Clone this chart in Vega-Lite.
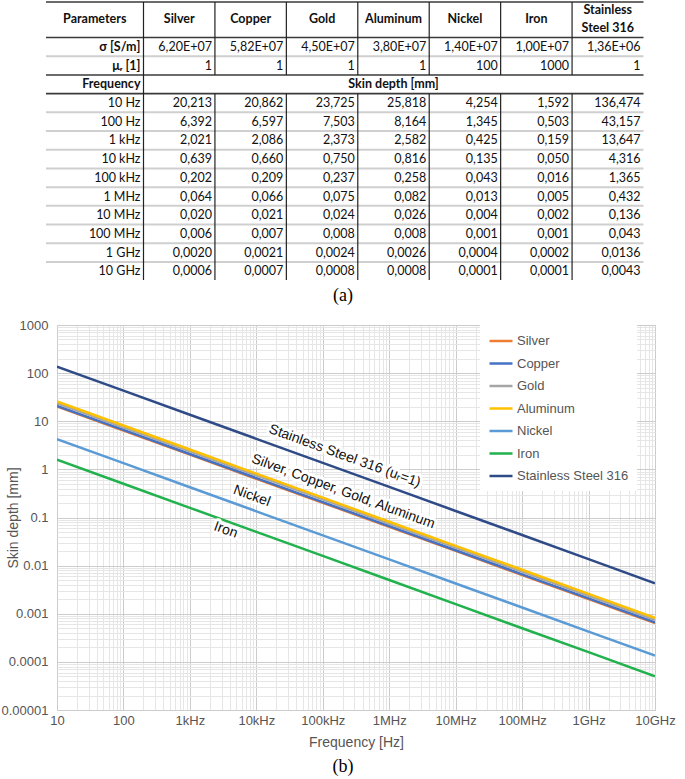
{
  "$schema": "https://vega.github.io/schema/vega-lite/v6.json",
  "padding": 0,
  "spacing": 13,
  "config": {"view": {"stroke": null}, "font": "Liberation Sans"},
  "datasets": {
    "materials": [
      {"material": "Silver", "col": 1, "header": "Silver"},
      {"material": "Copper", "col": 2, "header": "Copper"},
      {"material": "Gold", "col": 3, "header": "Gold"},
      {"material": "Aluminum", "col": 4, "header": "Aluminum"},
      {"material": "Nickel", "col": 5, "header": "Nickel"},
      {"material": "Iron", "col": 6, "header": "Iron"},
      {"material": "Stainless Steel 316", "col": 7, "header": "Stainless\nSteel 316"}
    ],
    "tableRows": [
      {"row": -3, "label": "σ [S/m]", "Silver": "6,20E+07", "Copper": "5,82E+07", "Gold": "4,50E+07", "Aluminum": "3,80E+07", "Nickel": "1,40E+07", "Iron": "1,00E+07", "Stainless Steel 316": "1,36E+06"},
      {"row": -2, "label": "μᵣ [1]", "Silver": "1", "Copper": "1", "Gold": "1", "Aluminum": "1", "Nickel": "100", "Iron": "1000", "Stainless Steel 316": "1"},
      {"row": -1, "label": "Frequency"},
      {"row": 0, "label": "10 Hz", "Silver": "20,213", "Copper": "20,862", "Gold": "23,725", "Aluminum": "25,818", "Nickel": "4,254", "Iron": "1,592", "Stainless Steel 316": "136,474"},
      {"row": 1, "label": "100 Hz", "Silver": "6,392", "Copper": "6,597", "Gold": "7,503", "Aluminum": "8,164", "Nickel": "1,345", "Iron": "0,503", "Stainless Steel 316": "43,157"},
      {"row": 2, "label": "1 kHz", "Silver": "2,021", "Copper": "2,086", "Gold": "2,373", "Aluminum": "2,582", "Nickel": "0,425", "Iron": "0,159", "Stainless Steel 316": "13,647"},
      {"row": 3, "label": "10 kHz", "Silver": "0,639", "Copper": "0,660", "Gold": "0,750", "Aluminum": "0,816", "Nickel": "0,135", "Iron": "0,050", "Stainless Steel 316": "4,316"},
      {"row": 4, "label": "100 kHz", "Silver": "0,202", "Copper": "0,209", "Gold": "0,237", "Aluminum": "0,258", "Nickel": "0,043", "Iron": "0,016", "Stainless Steel 316": "1,365"},
      {"row": 5, "label": "1 MHz", "Silver": "0,064", "Copper": "0,066", "Gold": "0,075", "Aluminum": "0,082", "Nickel": "0,013", "Iron": "0,005", "Stainless Steel 316": "0,432"},
      {"row": 6, "label": "10 MHz", "Silver": "0,020", "Copper": "0,021", "Gold": "0,024", "Aluminum": "0,026", "Nickel": "0,004", "Iron": "0,002", "Stainless Steel 316": "0,136"},
      {"row": 7, "label": "100 MHz", "Silver": "0,006", "Copper": "0,007", "Gold": "0,008", "Aluminum": "0,008", "Nickel": "0,001", "Iron": "0,001", "Stainless Steel 316": "0,043"},
      {"row": 8, "label": "1 GHz", "Silver": "0,0020", "Copper": "0,0021", "Gold": "0,0024", "Aluminum": "0,0026", "Nickel": "0,0004", "Iron": "0,0002", "Stainless Steel 316": "0,0136"},
      {"row": 9, "label": "10 GHz", "Silver": "0,0006", "Copper": "0,0007", "Gold": "0,0008", "Aluminum": "0,0008", "Nickel": "0,0001", "Iron": "0,0001", "Stainless Steel 316": "0,0043"}
    ],
    "curves": [
      {"material": "Silver", "freq": 10, "depth": 20.21}, {"material": "Silver", "freq": 100, "depth": 6.392}, {"material": "Silver", "freq": 1000, "depth": 2.021}, {"material": "Silver", "freq": 1e4, "depth": 0.639}, {"material": "Silver", "freq": 1e5, "depth": 0.2021}, {"material": "Silver", "freq": 1e6, "depth": 0.0639}, {"material": "Silver", "freq": 1e7, "depth": 0.0202}, {"material": "Silver", "freq": 1e8, "depth": 0.00639}, {"material": "Silver", "freq": 1e9, "depth": 0.00202}, {"material": "Silver", "freq": 1e10, "depth": 0.00064},
      {"material": "Copper", "freq": 10, "depth": 20.86}, {"material": "Copper", "freq": 100, "depth": 6.597}, {"material": "Copper", "freq": 1000, "depth": 2.086}, {"material": "Copper", "freq": 1e4, "depth": 0.66}, {"material": "Copper", "freq": 1e5, "depth": 0.2086}, {"material": "Copper", "freq": 1e6, "depth": 0.066}, {"material": "Copper", "freq": 1e7, "depth": 0.0209}, {"material": "Copper", "freq": 1e8, "depth": 0.0066}, {"material": "Copper", "freq": 1e9, "depth": 0.00209}, {"material": "Copper", "freq": 1e10, "depth": 0.00066},
      {"material": "Gold", "freq": 10, "depth": 23.73}, {"material": "Gold", "freq": 100, "depth": 7.503}, {"material": "Gold", "freq": 1000, "depth": 2.373}, {"material": "Gold", "freq": 1e4, "depth": 0.75}, {"material": "Gold", "freq": 1e5, "depth": 0.2373}, {"material": "Gold", "freq": 1e6, "depth": 0.075}, {"material": "Gold", "freq": 1e7, "depth": 0.0237}, {"material": "Gold", "freq": 1e8, "depth": 0.0075}, {"material": "Gold", "freq": 1e9, "depth": 0.00237}, {"material": "Gold", "freq": 1e10, "depth": 0.00075},
      {"material": "Aluminum", "freq": 10, "depth": 25.82}, {"material": "Aluminum", "freq": 100, "depth": 8.164}, {"material": "Aluminum", "freq": 1000, "depth": 2.582}, {"material": "Aluminum", "freq": 1e4, "depth": 0.816}, {"material": "Aluminum", "freq": 1e5, "depth": 0.2582}, {"material": "Aluminum", "freq": 1e6, "depth": 0.0816}, {"material": "Aluminum", "freq": 1e7, "depth": 0.0258}, {"material": "Aluminum", "freq": 1e8, "depth": 0.0082}, {"material": "Aluminum", "freq": 1e9, "depth": 0.00258}, {"material": "Aluminum", "freq": 1e10, "depth": 0.00082},
      {"material": "Nickel", "freq": 10, "depth": 4.254}, {"material": "Nickel", "freq": 100, "depth": 1.345}, {"material": "Nickel", "freq": 1000, "depth": 0.425}, {"material": "Nickel", "freq": 1e4, "depth": 0.1345}, {"material": "Nickel", "freq": 1e5, "depth": 0.0425}, {"material": "Nickel", "freq": 1e6, "depth": 0.01345}, {"material": "Nickel", "freq": 1e7, "depth": 0.00425}, {"material": "Nickel", "freq": 1e8, "depth": 0.00135}, {"material": "Nickel", "freq": 1e9, "depth": 0.000425}, {"material": "Nickel", "freq": 1e10, "depth": 0.000135},
      {"material": "Iron", "freq": 10, "depth": 1.592}, {"material": "Iron", "freq": 100, "depth": 0.503}, {"material": "Iron", "freq": 1000, "depth": 0.159}, {"material": "Iron", "freq": 1e4, "depth": 0.0503}, {"material": "Iron", "freq": 1e5, "depth": 0.0159}, {"material": "Iron", "freq": 1e6, "depth": 0.00503}, {"material": "Iron", "freq": 1e7, "depth": 0.00159}, {"material": "Iron", "freq": 1e8, "depth": 0.0005}, {"material": "Iron", "freq": 1e9, "depth": 0.000159}, {"material": "Iron", "freq": 1e10, "depth": 0.00005},
      {"material": "Stainless Steel 316", "freq": 10, "depth": 136.47}, {"material": "Stainless Steel 316", "freq": 100, "depth": 43.16}, {"material": "Stainless Steel 316", "freq": 1000, "depth": 13.65}, {"material": "Stainless Steel 316", "freq": 1e4, "depth": 4.316}, {"material": "Stainless Steel 316", "freq": 1e5, "depth": 1.365}, {"material": "Stainless Steel 316", "freq": 1e6, "depth": 0.432}, {"material": "Stainless Steel 316", "freq": 1e7, "depth": 0.1365}, {"material": "Stainless Steel 316", "freq": 1e8, "depth": 0.0432}, {"material": "Stainless Steel 316", "freq": 1e9, "depth": 0.01365}, {"material": "Stainless Steel 316", "freq": 1e10, "depth": 0.0043}
    ],
    "notes": [
      {"label": "Stainless Steel 316 (uᵣ=1)", "freq": 2.14e5, "depth": 1.89},
      {"label": "Silver, Copper, Gold, Aluminum", "freq": 2.03e5, "depth": 0.3455},
      {"label": "Nickel", "freq": 8.55e3, "depth": 0.279},
      {"label": "Iron", "freq": 3.47e3, "depth": 0.0547}
    ]
  },
  "vconcat": [
    {
      "width": 598,
      "height": 280,
      "title": {"text": "(a)", "orient": "bottom", "anchor": "middle", "dx": -13, "offset": 6, "font": "Liberation Serif", "fontSize": 18, "fontWeight": "normal", "color": "#000000"},
      "layer": [
        {
          "data": {"name": "tableRows"},
          "transform": [{"filter": "datum.row == -3 || (datum.row >= 0 && datum.row < 9)"}],
          "mark": {"type": "rule", "color": "#cfcfcf", "strokeWidth": 2, "yOffset": 9.35},
          "encoding": {
            "x": {"datum": -1.365, "type": "quantitative", "scale": {"domain": [-1.211, 7.161], "zero": false, "nice": false}, "axis": null},
            "x2": {"datum": 7},
            "y": {"field": "row", "type": "quantitative", "scale": {"domain": [-5.508, 9.465], "reverse": true, "zero": false, "nice": false}, "axis": null}
          }
        },
        {
          "data": {"name": "tableRows"},
          "transform": [{"filter": "datum.row == -2 || datum.row == -1"}],
          "mark": {"type": "rule", "color": "#3a3a3a", "strokeWidth": 1.6, "yOffset": 9.35},
          "encoding": {
            "x": {"datum": -1.365, "type": "quantitative", "scale": {"domain": [-1.211, 7.161], "zero": false, "nice": false}, "axis": null},
            "x2": {"datum": 7},
            "y": {"field": "row", "type": "quantitative", "scale": {"domain": [-5.508, 9.465], "reverse": true, "zero": false, "nice": false}, "axis": null}
          }
        },
        {
          "data": {"name": "tableRows"},
          "transform": [{"filter": "datum.row == -3"}],
          "mark": {"type": "rule", "color": "#3a3a3a", "strokeWidth": 1.6, "yOffset": -9.35},
          "encoding": {
            "x": {"datum": -1.365, "type": "quantitative", "scale": {"domain": [-1.211, 7.161], "zero": false, "nice": false}, "axis": null},
            "x2": {"datum": 7},
            "y": {"field": "row", "type": "quantitative", "scale": {"domain": [-5.508, 9.465], "reverse": true, "zero": false, "nice": false}, "axis": null}
          }
        },
        {
          "data": {"values": [{}]},
          "mark": {"type": "rule", "color": "#3a3a3a", "strokeWidth": 1.6},
          "encoding": {
            "x": {"datum": -1.365, "type": "quantitative", "scale": {"domain": [-1.211, 7.161], "zero": false, "nice": false}, "axis": null},
            "x2": {"datum": 7},
            "y": {"datum": -5.4, "type": "quantitative", "scale": {"domain": [-5.508, 9.465], "reverse": true, "zero": false, "nice": false}, "axis": null}
          }
        },
        {
          "data": {"values": [{}]},
          "mark": {"type": "rule", "color": "#222222", "strokeWidth": 1.2},
          "encoding": {
            "x": {"datum": 0, "type": "quantitative", "scale": {"domain": [-1.211, 7.161], "zero": false, "nice": false}, "axis": null},
            "y": {"datum": -5.4, "type": "quantitative", "scale": {"domain": [-5.508, 9.465], "reverse": true, "zero": false, "nice": false}, "axis": null},
            "y2": {"datum": 9.465}
          }
        },
        {
          "data": {"name": "materials"},
          "transform": [{"filter": "datum.col <= 6"}],
          "mark": {"type": "rule", "color": "#222222", "strokeWidth": 1.2},
          "encoding": {
            "x": {"field": "col", "type": "quantitative", "scale": {"domain": [-1.211, 7.161], "zero": false, "nice": false}, "axis": null},
            "y": {"datum": -5.4, "type": "quantitative", "scale": {"domain": [-5.508, 9.465], "reverse": true, "zero": false, "nice": false}, "axis": null},
            "y2": {"datum": -1.5}
          }
        },
        {
          "data": {"name": "materials"},
          "transform": [{"filter": "datum.col <= 6"}],
          "mark": {"type": "rule", "color": "#222222", "strokeWidth": 1.2},
          "encoding": {
            "x": {"field": "col", "type": "quantitative", "scale": {"domain": [-1.211, 7.161], "zero": false, "nice": false}, "axis": null},
            "y": {"datum": -0.5, "type": "quantitative", "scale": {"domain": [-5.508, 9.465], "reverse": true, "zero": false, "nice": false}, "axis": null},
            "y2": {"datum": 9.465}
          }
        },
        {
          "data": {"values": [{}]},
          "mark": {"type": "text", "text": "Parameters", "font": "Lato, DejaVu Sans", "fontSize": 12.5, "fontWeight": "bold", "color": "#111111", "align": "center", "baseline": "middle"},
          "encoding": {
            "x": {"datum": -0.6825, "type": "quantitative", "scale": {"domain": [-1.211, 7.161], "zero": false, "nice": false}, "axis": null},
            "y": {"datum": -4.5, "type": "quantitative", "scale": {"domain": [-5.508, 9.465], "reverse": true, "zero": false, "nice": false}, "axis": null}
          }
        },
        {
          "data": {"name": "materials"},
          "transform": [{"filter": "datum.col <= 6"}],
          "mark": {"type": "text", "font": "Lato, DejaVu Sans", "fontSize": 12.5, "fontWeight": "bold", "color": "#111111", "align": "center", "baseline": "middle", "dx": -35.7},
          "encoding": {
            "x": {"field": "col", "type": "quantitative", "scale": {"domain": [-1.211, 7.161], "zero": false, "nice": false}, "axis": null},
            "y": {"datum": -4.5, "type": "quantitative", "scale": {"domain": [-5.508, 9.465], "reverse": true, "zero": false, "nice": false}, "axis": null},
            "text": {"field": "header", "type": "nominal"}
          }
        },
        {
          "data": {"name": "materials"},
          "transform": [{"filter": "datum.col == 7"}],
          "mark": {"type": "text", "font": "Lato, DejaVu Sans", "fontSize": 12.5, "fontWeight": "bold", "color": "#111111", "align": "center", "baseline": "middle", "dx": -35.7, "dy": -8.75, "lineBreak": "\n", "lineHeight": 17.5},
          "encoding": {
            "x": {"field": "col", "type": "quantitative", "scale": {"domain": [-1.211, 7.161], "zero": false, "nice": false}, "axis": null},
            "y": {"datum": -4.5, "type": "quantitative", "scale": {"domain": [-5.508, 9.465], "reverse": true, "zero": false, "nice": false}, "axis": null},
            "text": {"field": "header", "type": "nominal"}
          }
        },
        {
          "data": {"name": "tableRows"},
          "transform": [{"filter": "datum.row < 0"}],
          "mark": {"type": "text", "font": "Lato, DejaVu Sans", "fontSize": 12.5, "fontWeight": "bold", "color": "#111111", "align": "right", "baseline": "middle", "dx": -3},
          "encoding": {
            "x": {"datum": 0, "type": "quantitative", "scale": {"domain": [-1.211, 7.161], "zero": false, "nice": false}, "axis": null},
            "y": {"field": "row", "type": "quantitative", "scale": {"domain": [-5.508, 9.465], "reverse": true, "zero": false, "nice": false}, "axis": null},
            "text": {"field": "label", "type": "nominal"}
          }
        },
        {
          "data": {"name": "tableRows"},
          "transform": [{"filter": "datum.row >= 0"}],
          "mark": {"type": "text", "font": "Lato, DejaVu Sans", "fontSize": 12.5, "color": "#111111", "align": "right", "baseline": "middle", "dx": -3},
          "encoding": {
            "x": {"datum": 0, "type": "quantitative", "scale": {"domain": [-1.211, 7.161], "zero": false, "nice": false}, "axis": null},
            "y": {"field": "row", "type": "quantitative", "scale": {"domain": [-5.508, 9.465], "reverse": true, "zero": false, "nice": false}, "axis": null},
            "text": {"field": "label", "type": "nominal"}
          }
        },
        {
          "data": {"name": "tableRows"},
          "transform": [
            {"fold": ["Silver", "Copper", "Gold", "Aluminum", "Nickel", "Iron", "Stainless Steel 316"], "as": ["material", "value"]},
            {"filter": "isValid(datum.value)"},
            {"lookup": "material", "from": {"data": {"name": "materials"}, "key": "material", "fields": ["col"]}}
          ],
          "mark": {"type": "text", "font": "Lato, DejaVu Sans", "fontSize": 12.5, "color": "#111111", "align": "right", "baseline": "middle", "dx": -3},
          "encoding": {
            "x": {"field": "col", "type": "quantitative", "scale": {"domain": [-1.211, 7.161], "zero": false, "nice": false}, "axis": null},
            "y": {"field": "row", "type": "quantitative", "scale": {"domain": [-5.508, 9.465], "reverse": true, "zero": false, "nice": false}, "axis": null},
            "text": {"field": "value", "type": "nominal"}
          }
        },
        {
          "data": {"values": [{}]},
          "mark": {"type": "text", "text": "Skin depth [mm]", "font": "Lato, DejaVu Sans", "fontSize": 12.5, "fontWeight": "bold", "color": "#111111", "align": "center", "baseline": "middle"},
          "encoding": {
            "x": {"datum": 3.5, "type": "quantitative", "scale": {"domain": [-1.211, 7.161], "zero": false, "nice": false}, "axis": null},
            "y": {"datum": -1, "type": "quantitative", "scale": {"domain": [-5.508, 9.465], "reverse": true, "zero": false, "nice": false}, "axis": null}
          }
        }
      ]
    },
    {
      "width": 598,
      "height": 385,
      "view": {"stroke": "#cccccc"},
      "title": {"text": "(b)", "orient": "bottom", "anchor": "middle", "dx": -13, "offset": 9, "font": "Liberation Serif", "fontSize": 18, "fontWeight": "normal", "color": "#000000"},
      "layer": [
        {
          "data": {"name": "curves"},
          "mark": {"type": "line", "strokeWidth": 2.5, "clip": true},
          "encoding": {
            "x": {
              "field": "freq", "type": "quantitative",
              "scale": {"type": "log", "domain": [10, 1e10], "nice": false},
              "axis": {
                "title": "Frequency [Hz]",
                "values": [10, 20, 30, 40, 50, 60, 70, 80, 90, 100, 200, 300, 400, 500, 600, 700, 800, 900, 1000, 2000, 3000, 4000, 5000, 6000, 7000, 8000, 9000, 1e4, 2e4, 3e4, 4e4, 5e4, 6e4, 7e4, 8e4, 9e4, 1e5, 2e5, 3e5, 4e5, 5e5, 6e5, 7e5, 8e5, 9e5, 1e6, 2e6, 3e6, 4e6, 5e6, 6e6, 7e6, 8e6, 9e6, 1e7, 2e7, 3e7, 4e7, 5e7, 6e7, 7e7, 8e7, 9e7, 1e8, 2e8, 3e8, 4e8, 5e8, 6e8, 7e8, 8e8, 9e8, 1e9, 2e9, 3e9, 4e9, 5e9, 6e9, 7e9, 8e9, 9e9, 1e10],
                "labelExpr": "abs(log(datum.value)/LN10 - round(log(datum.value)/LN10)) < 0.001 ? ['10','100','1kHz','10kHz','100kHz','1MHz','10MHz','100MHz','1GHz','10GHz'][round(log(datum.value)/LN10)-1] : ''",
                "labelOverlap": false, "labelFlush": false, "labelBound": false,
                "ticks": false, "tickSize": 0, "domain": false,
                "grid": true, "gridWidth": 1,
                "gridColor": {"condition": {"test": "abs(log(datum.value)/LN10 - round(log(datum.value)/LN10)) < 0.001", "value": "#cccccc"}, "value": "#e6e6e6"},
                "labelFont": "Liberation Sans", "labelFontSize": 13, "labelColor": "#555555", "labelPadding": 4,
                "titleFont": "Liberation Sans", "titleFontSize": 14, "titleFontWeight": "normal", "titleColor": "#555555", "titlePadding": 8
              }
            },
            "y": {
              "field": "depth", "type": "quantitative",
              "scale": {"type": "log", "domain": [0.00001, 1000], "nice": false},
              "axis": {
                "title": "Skin depth [mm]",
                "values": [1e-5, 2e-5, 3e-5, 4e-5, 5e-5, 6e-5, 7e-5, 8e-5, 9e-5, 1e-4, 2e-4, 3e-4, 4e-4, 5e-4, 6e-4, 7e-4, 8e-4, 9e-4, 0.001, 0.002, 0.003, 0.004, 0.005, 0.006, 0.007, 0.008, 0.009, 0.01, 0.02, 0.03, 0.04, 0.05, 0.06, 0.07, 0.08, 0.09, 0.1, 0.2, 0.3, 0.4, 0.5, 0.6, 0.7, 0.8, 0.9, 1, 2, 3, 4, 5, 6, 7, 8, 9, 10, 20, 30, 40, 50, 60, 70, 80, 90, 100, 200, 300, 400, 500, 600, 700, 800, 900, 1000],
                "labelExpr": "abs(log(datum.value)/LN10 - round(log(datum.value)/LN10)) < 0.001 ? format(datum.value, '~f') : ''",
                "labelOverlap": false, "labelFlush": false, "labelBound": false,
                "ticks": false, "tickSize": 0, "domain": false,
                "grid": true, "gridWidth": 1,
                "gridColor": {"condition": {"test": "abs(log(datum.value)/LN10 - round(log(datum.value)/LN10)) < 0.001", "value": "#cccccc"}, "value": "#e6e6e6"},
                "labelFont": "Liberation Sans", "labelFontSize": 13, "labelColor": "#555555", "labelPadding": 9,
                "titleFont": "Liberation Sans", "titleFontSize": 14, "titleFontWeight": "normal", "titleColor": "#555555",
                "titleX": -44, "titleY": 192.5, "titleBaseline": "middle", "titleAlign": "center", "titleAngle": -90
              }
            },
            "color": {
              "field": "material", "type": "nominal",
              "scale": {
                "domain": ["Silver", "Copper", "Gold", "Aluminum", "Nickel", "Iron", "Stainless Steel 316"],
                "range": ["#ED7D31", "#4472C4", "#A5A5A5", "#FFC000", "#5B9BD5", "#21B14D", "#2F4B87"]
              },
              "legend": {
                "title": null, "orient": "none", "legendX": 423, "legendY": 320,
                "symbolType": "stroke", "symbolSize": 529, "symbolStrokeWidth": 2.5,
                "labelFont": "Liberation Sans", "labelFontSize": 13, "labelColor": "#555555",
                "fillColor": "white", "padding": 8, "rowPadding": 2.5, "labelOffset": 3
              }
            }
          }
        },
        {
          "data": {"name": "notes"},
          "mark": {"type": "text", "angle": 20, "font": "Liberation Sans", "fontSize": 14, "align": "center", "baseline": "middle", "fill": "white", "stroke": "white", "strokeWidth": 6, "strokeJoin": "round"},
          "encoding": {
            "x": {"field": "freq", "type": "quantitative", "scale": {"type": "log"}},
            "y": {"field": "depth", "type": "quantitative", "scale": {"type": "log"}},
            "text": {"field": "label", "type": "nominal"}
          }
        },
        {
          "data": {"name": "notes"},
          "mark": {"type": "text", "angle": 20, "font": "Liberation Sans", "fontSize": 14, "align": "center", "baseline": "middle", "color": "#111111"},
          "encoding": {
            "x": {"field": "freq", "type": "quantitative", "scale": {"type": "log"}},
            "y": {"field": "depth", "type": "quantitative", "scale": {"type": "log"}},
            "text": {"field": "label", "type": "nominal"}
          }
        }
      ]
    }
  ]
}
